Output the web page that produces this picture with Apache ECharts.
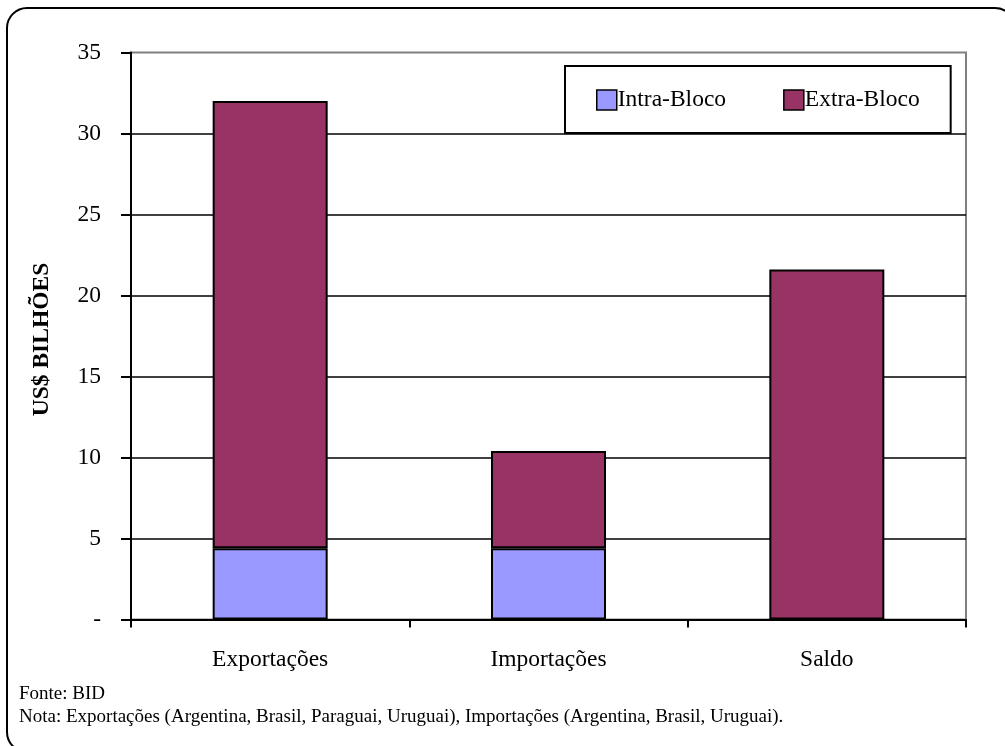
<!DOCTYPE html>
<html>
<head>
<meta charset="utf-8">
<script src="https://cdn.jsdelivr.net/npm/echarts@6/dist/echarts.min.js"></script>
<style>
  html, body { margin: 0; padding: 0; background: #fff; }
  #chart { width: 1005px; height: 746px; }
</style>
</head>
<body>
<div id="chart"></div>
<script>
// Comércio do bloco: valores em US$ bilhões
const categories = ['Exportações', 'Importações', 'Saldo'];
const intraBloco = [4.4, 4.4, 0];
const extraBloco = [27.6, 6.0, 21.6];
const yTicks = { min: 0, max: 35, interval: 5 };
const fonteText = 'Fonte: BID';
const notaText = 'Nota: Exportações (Argentina, Brasil, Paraguai, Uruguai), Importações (Argentina, Brasil, Uruguai).';

const serif = '"Liberation Serif", "Times New Roman", serif';

const chart = echarts.init(document.getElementById('chart'), null, { renderer: 'canvas' });

chart.setOption({
  animation: false,
  backgroundColor: '#fff',
  textStyle: { fontFamily: serif, color: '#000' },
  grid: {
    left: 131, right: 39, top: 52.5, bottom: 126.5,
    show: true, borderColor: '#808080', borderWidth: 2, backgroundColor: 'transparent'
  },
  legend: {
    left: 565, top: 66,
    padding: [22, 31, 21, 31],
    itemGap: 57,
    itemWidth: 20, itemHeight: 20,
    icon: 'rect',
    backgroundColor: '#fff',
    borderColor: '#000', borderWidth: 2,
    itemStyle: { borderColor: '#000', borderWidth: 1.5 },
    textStyle: { fontFamily: serif, fontSize: 23.5, color: '#000', padding: [0, 0, 0, -4] },
    data: ['Intra-Bloco', 'Extra-Bloco']
  },
  xAxis: {
    type: 'category',
    data: categories,
    axisLine: { lineStyle: { color: '#000', width: 2 } },
    axisTick: { show: true, length: 8, lineStyle: { color: '#000', width: 2 } },
    axisLabel: { fontFamily: serif, fontSize: 23.5, color: '#000', margin: 28 }
  },
  yAxis: {
    type: 'value',
    min: yTicks.min, max: yTicks.max, interval: yTicks.interval,
    name: 'US$ BILHÕES',
    nameLocation: 'middle',
    nameGap: 77,
    nameRotate: 90,
    nameTextStyle: { fontFamily: serif, fontSize: 23.5, fontWeight: 'bold', color: '#000', padding: [0, 7, 0, 0] },
    axisLine: { show: true, lineStyle: { color: '#000', width: 2 } },
    axisTick: { show: true, length: 10, lineStyle: { color: '#000', width: 2 } },
    axisLabel: {
      fontFamily: serif, fontSize: 23.5, color: '#000', margin: 30,
      formatter: v => (v === 0 ? '-' : String(v))
    },
    splitLine: { show: true, showMaxLine: false, lineStyle: { color: '#000', width: 1.5 } }
  },
  series: [
    {
      name: 'Intra-Bloco', type: 'bar', stack: 'total',
      barWidth: 115,
      data: intraBloco,
      itemStyle: { color: '#9999FF', borderColor: '#000', borderWidth: 2 }
    },
    {
      name: 'Extra-Bloco', type: 'bar', stack: 'total',
      barWidth: 115,
      data: extraBloco,
      itemStyle: { color: '#993366', borderColor: '#000', borderWidth: 2 }
    }
  ],
  graphic: [
    {
      type: 'rect', silent: true, z: 100,
      shape: { x: 7, y: 8, width: 1008, height: 744, r: 20 },
      style: { fill: 'none', stroke: '#000', lineWidth: 2 }
    },
    {
      type: 'text', left: 19, top: 685,
      style: { text: fonteText, font: '19px ' + serif, fill: '#000' }
    },
    {
      type: 'text', left: 19, top: 708,
      style: { text: notaText, font: '19px ' + serif, fill: '#000' }
    }
  ]
});
</script>
</body>
</html>
